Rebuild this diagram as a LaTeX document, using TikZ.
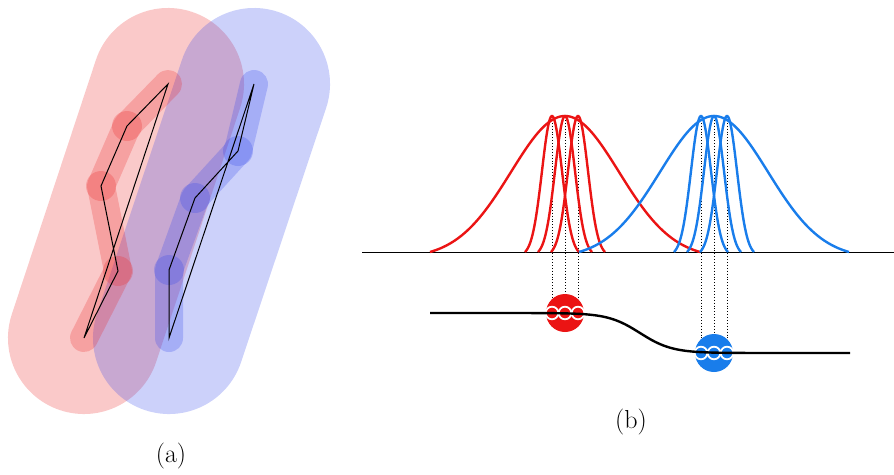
\documentclass[tikz,border=0pt]{standalone}
\usepackage{fontspec}
\definecolor{cred}{RGB}{235,40,40}
\definecolor{cblue}{RGB}{50,70,235}
\definecolor{gred}{RGB}{235,20,20}
\definecolor{gblue}{RGB}{25,125,235}
\tikzset{
  capsule/.style={line width=152pt, line cap=round, opacity=0.25},
  chainline/.style={line width=28pt, line cap=round, line join=round, opacity=0.25},
  joint/.style={opacity=0.25},
  skel/.style={black, line width=1pt, line join=miter},
  gauss/.style={line width=2.4pt},
  dots/.style={black, dotted, line width=0.9pt},
  ring/.style={white, line width=1.8pt},
  lbl/.style={font=\fontsize{26}{30}\selectfont, inner sep=0pt}
}
\begin{document}
\begin{tikzpicture}[x=1pt,y=-1pt]
\useasboundingbox (0,0) rectangle (894,474);
% ---- panel (a) ----
\coordinate (p1) at (168,84);
\coordinate (p2) at (127,126);
\coordinate (p3) at (101,186);
\coordinate (p4) at (118,271);
\coordinate (p5) at (84,338);
\coordinate (q1) at (254,84);
\coordinate (q2) at (238,151);
\coordinate (q3) at (195,198);
\coordinate (q4) at (169,270);
\coordinate (q5) at (169,338);
\draw[capsule, cred] (p5) -- (p1);
\draw[capsule, cblue] (q5) -- (q1);
\draw[chainline, cred] (p5) -- (p4) -- (p3) -- (p2) -- (p1);
\foreach \c in {p2,p3,p4} \fill[joint, cred] (\c) circle (15);
\draw[chainline, cblue] (q5) -- (q4) -- (q3) -- (q2) -- (q1);
\foreach \c in {q2,q3,q4} \fill[joint, cblue] (\c) circle (15);
\draw[skel] (p5) -- (p4) -- (p3) -- (p2) -- (p1) -- cycle;
\draw[skel] (q5) -- (q4) -- (q3) -- (q2) -- (q1) -- cycle;
\node[lbl] (la) at (171,456) {(a)};
% ---- panel (b) ----
\coordinate (bl) at (362,252);
\coordinate (br) at (894,252);
\draw[black, line width=0.8pt] (bl) -- (br);
% dotted lines
\foreach \x in {552,565,578} \draw[dots] (\x,117) -- (\x,306);
\foreach \x in {701,714,727} \draw[dots] (\x,117) -- (\x,346);
% gaussians (normalised so that they end on the axis)
\def\wa{0.04394}
\def\na{0.02608}
\draw[gauss, gred] plot[domain=-135:135, samples=120] ({565+\x},{252-136*(exp(-(\x/54)^2/2)-\wa)/(1-\wa)});
\foreach \c in {552,565,578}
  \draw[gauss, gred] plot[domain=-27:27, samples=60] ({\c+\x},{252-136*(exp(-(\x/10)^2/2)-\na)/(1-\na)});
\draw[gauss, gblue] plot[domain=-135:135, samples=120] ({714+\x},{252-136*(exp(-(\x/54)^2/2)-\wa)/(1-\wa)});
\foreach \c in {701,714,727}
  \draw[gauss, gblue] plot[domain=-27:27, samples=60] ({\c+\x},{252-136*(exp(-(\x/10)^2/2)-\na)/(1-\na)});
% balls
\node[circle, fill=gred, minimum size=38pt, inner sep=0pt] (rb) at (565,313) {};
\node[circle, fill=gblue, minimum size=38pt, inner sep=0pt] (bb) at (714,353) {};
\foreach \x in {552,565,578} \draw[ring] (\x,313) circle (6.3);
\foreach \x in {701,714,727} \draw[ring] (\x,353) circle (6.3);
% energy curve
\draw[black, line width=2.4pt] plot[domain=430:850, samples=150] ({\x},{333+20*tanh((\x-640)/32)});
\node[lbl] (lb) at (631,422) {(b)};
\end{tikzpicture}
\end{document}
